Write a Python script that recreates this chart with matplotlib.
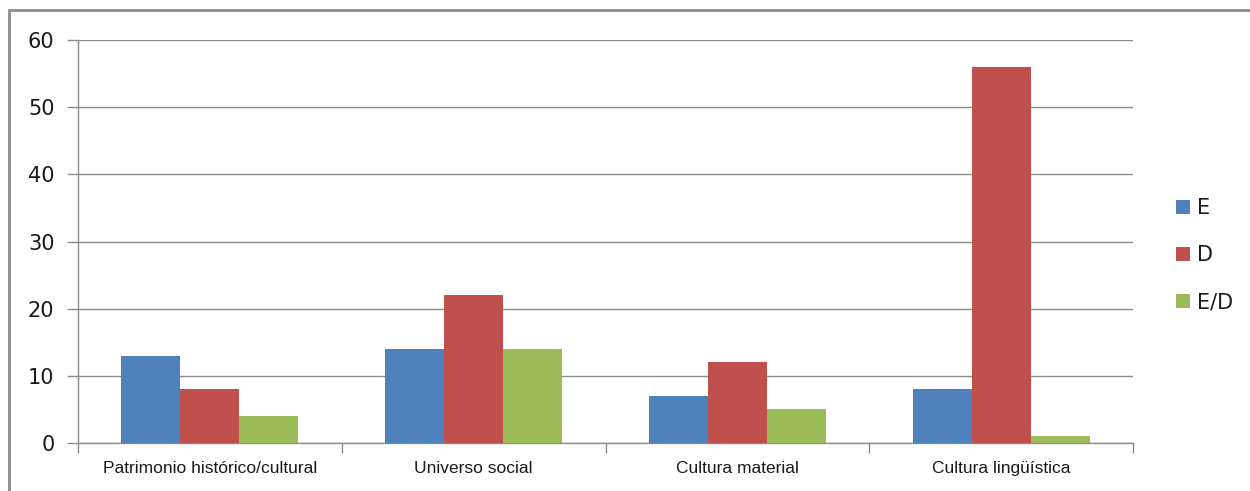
import matplotlib.pyplot as plt
import numpy as np
from matplotlib.patches import Rectangle
from matplotlib.font_manager import fontManager

categorias = ['Patrimonio histórico/cultural', 'Universo social', 'Cultura material', 'Cultura lingüística']
series = ['E', 'D', 'E/D']
valores_E = [13, 14, 7, 8]
valores_D = [8, 22, 12, 56]
valores_ED = [4, 14, 5, 1]
colores = ['#4F81BD', '#C0504D', '#9BBB59']

nombres = {f.name for f in fontManager.ttflist}
fuente_x = 'Liberation Sans Narrow' if 'Liberation Sans Narrow' in nombres else 'Liberation Sans'

fig = plt.figure(figsize=(12.5, 4.91), dpi=100)
ax = fig.add_axes([78 / 1250, 1 - 443 / 491, (1133 - 78) / 1250, (443 - 40) / 491])

x = np.arange(len(categorias))
ancho = 0.2237
for i, (vals, nombre) in enumerate(zip([valores_E, valores_D, valores_ED], series)):
    ax.bar(x + (i - 1) * ancho, vals, ancho, color=colores[i], label=nombre, zorder=3)

ax.set_xlim(-0.5, len(categorias) - 0.5)
ax.set_ylim(0, 60)
ax.set_yticks(range(0, 61, 10))
ax.yaxis.grid(True, color='#8c8c8c', linewidth=1, zorder=0)
ax.set_axisbelow(True)

ax.set_xticks(np.arange(-0.5, len(categorias), 1))
ax.set_xticklabels([])
ax.set_xticks(x, minor=True)
ax.set_xticklabels(categorias, minor=True, fontsize=12.5, family=fuente_x, color='#1a1a1a')
ax.tick_params(axis='x', which='major', length=7, color='#8c8c8c', width=1)
ax.tick_params(axis='x', which='minor', length=0, pad=13)
ax.tick_params(axis='y', length=8, color='#8c8c8c', width=1, pad=9, labelsize=15, labelcolor='#1a1a1a')
for lbl in ax.get_yticklabels():
    lbl.set_family('DejaVu Sans')

for s in ['top', 'right']:
    ax.spines[s].set_visible(False)
for s in ['left', 'bottom']:
    ax.spines[s].set_color('#8c8c8c')
    ax.spines[s].set_linewidth(1)

leg = fig.legend(loc='center left', bbox_to_anchor=(1166 / 1250, 1 - 255 / 491), frameon=False,
                 borderpad=0, handlelength=0.67, handleheight=0.67, handletextpad=0.3,
                 labelspacing=1.3, prop={'family': 'DejaVu Sans', 'size': 15})
for t in leg.get_texts():
    t.set_color('#1a1a1a')

fig.patches.append(Rectangle((9 / 1250, -0.1), 1.2, 1 - 10 / 491 + 0.1, transform=fig.transFigure,
                             fill=False, edgecolor='#8c8c8c', linewidth=2))

fig.savefig('out.png', dpi=100)
